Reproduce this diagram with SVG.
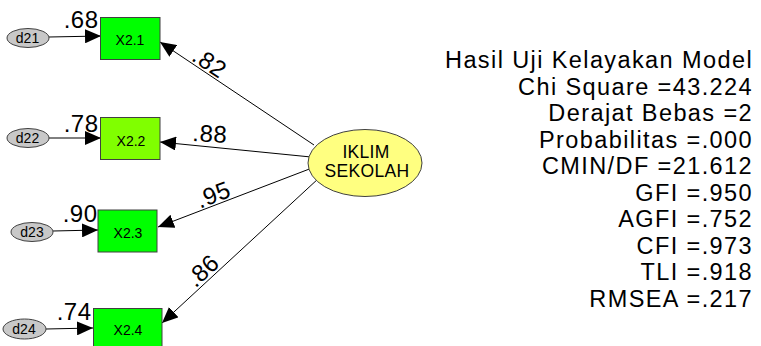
<svg xmlns="http://www.w3.org/2000/svg" width="761" height="346" viewBox="0 0 761 346">
<defs>
<style>
text{font-family:"Liberation Sans",Arial,sans-serif;fill:#000}
.box{stroke:#404040;stroke-width:1}
.g1{fill:#00FF00}
.g2{fill:#80FF00}
.err{fill:#C8C8C8;stroke:#404040;stroke-width:1}
.lat{fill:#FFFF80;stroke:#404040;stroke-width:1}
.ln{stroke:#000;stroke-width:1;fill:none;marker-end:url(#ah)}
.lbl{font-size:24px;letter-spacing:0.5px}
.stat{font-size:23.5px;letter-spacing:1.4px;text-anchor:end}
.bt{font-size:14px;text-anchor:middle}
.lt{font-size:17.5px;letter-spacing:0.3px;text-anchor:middle}
</style>
<marker id="ah" markerUnits="userSpaceOnUse" markerWidth="17" markerHeight="14" refX="16" refY="7" orient="auto">
<path d="M0,0 L16,7 L0,14 z" fill="#000"/>
</marker>
</defs>
<rect width="761" height="346" fill="#fff"/>
<g id="connectors">
<line class="ln" x1="314" y1="145" x2="160" y2="42"/>
<line class="ln" x1="311" y1="157" x2="160" y2="142"/>
<line class="ln" x1="312" y1="168" x2="158" y2="227"/>
<line class="ln" x1="319" y1="178" x2="162" y2="323"/>
<line class="ln" x1="49" y1="37" x2="101" y2="36"/>
<line class="ln" x1="49" y1="138" x2="101" y2="138"/>
<line class="ln" x1="53" y1="231" x2="98" y2="230"/>
<line class="ln" x1="46" y1="329" x2="93" y2="328"/>
</g>
<g id="iklim">
<ellipse class="lat" cx="365" cy="163" rx="57" ry="33.5"/>
<text class="lt" x="366" y="158">IKLIM</text>
<text class="lt" x="367" y="177">SEKOLAH</text>
</g>
<g id="x21">
<rect class="box g1" x="100.5" y="17.5" width="59.5" height="42"/>
<text class="bt" x="130" y="45">X2.1</text>
</g>
<g id="x22">
<rect class="box g2" x="100.5" y="117.5" width="59.5" height="42"/>
<text class="bt" x="131" y="146">X2.2</text>
</g>
<g id="x23">
<rect class="box g1" x="98" y="210" width="59" height="42"/>
<text class="bt" x="128" y="238">X2.3</text>
</g>
<g id="x24">
<rect class="box g1" x="93.5" y="308.5" width="68.5" height="42"/>
<text class="bt" x="128" y="335">X2.4</text>
</g>
<g id="d21">
<ellipse class="err" cx="28" cy="38" rx="21" ry="9.5"/>
<text class="bt" x="27.5" y="42.5">d21</text>
</g>
<g id="d22">
<ellipse class="err" cx="28" cy="138" rx="21" ry="9.5"/>
<text class="bt" x="27.5" y="143">d22</text>
</g>
<g id="d23">
<ellipse class="err" cx="32" cy="232" rx="21" ry="9.5"/>
<text class="bt" x="32" y="237">d23</text>
</g>
<g id="d24">
<ellipse class="err" cx="24.5" cy="329" rx="21.5" ry="10"/>
<text class="bt" x="24" y="334">d24</text>
</g>
<g id="labels">
<text class="lbl" x="98.5" y="28" text-anchor="end">.68</text>
<text class="lbl" x="98.5" y="132" text-anchor="end">.78</text>
<text class="lbl" x="97.5" y="222" text-anchor="end">.90</text>
<text class="lbl" x="91.5" y="320" text-anchor="end">.74</text>
<text class="lbl" transform="translate(210,62) rotate(34)" y="9" text-anchor="middle">.82</text>
<text class="lbl" transform="translate(210,133) rotate(3)" y="9" text-anchor="middle">.88</text>
<text class="lbl" transform="translate(213,194) rotate(-21)" y="9" text-anchor="middle">.95</text>
<text class="lbl" transform="translate(202,270) rotate(-43)" y="9" text-anchor="middle">.86</text>
</g>
<g id="stats">
<text class="stat" x="753" y="68">Hasil Uji Kelayakan Model</text>
<text class="stat" x="753" y="94.5">Chi Square =43.224</text>
<text class="stat" x="753" y="121">Derajat Bebas =2</text>
<text class="stat" x="753" y="147.5">Probabilitas =.000</text>
<text class="stat" x="753" y="174">CMIN/DF =21.612</text>
<text class="stat" x="753" y="200.5">GFI =.950</text>
<text class="stat" x="753" y="227">AGFI =.752</text>
<text class="stat" x="753" y="253.5">CFI =.973</text>
<text class="stat" x="753" y="280">TLI =.918</text>
<text class="stat" x="753" y="306.5">RMSEA =.217</text>
</g>
</svg>
